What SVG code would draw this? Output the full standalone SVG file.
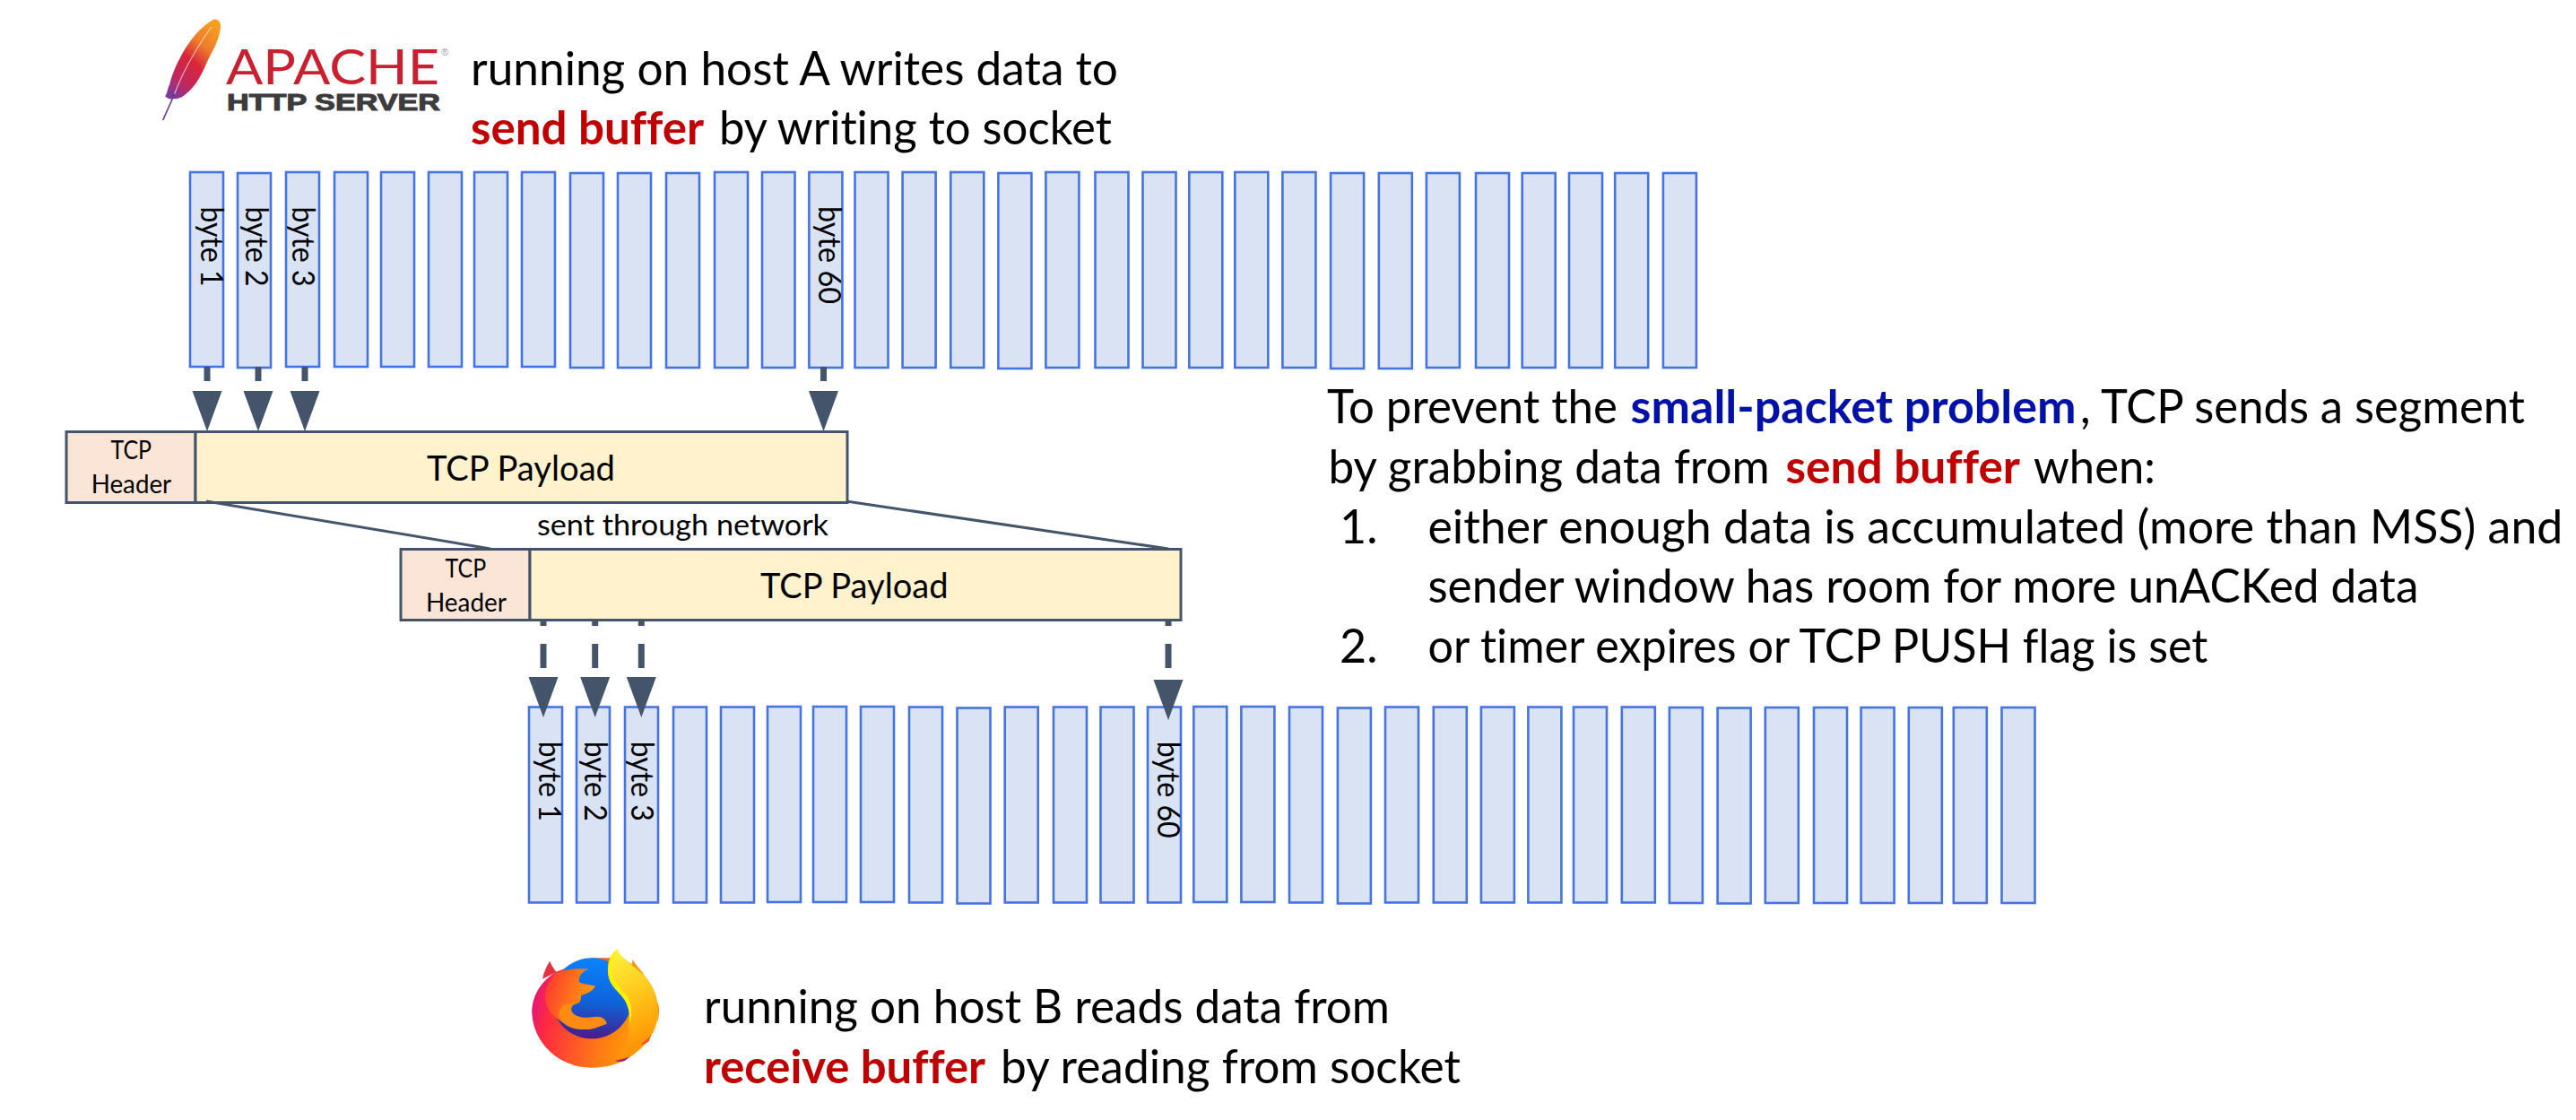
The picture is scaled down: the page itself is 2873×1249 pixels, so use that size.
<svg xmlns="http://www.w3.org/2000/svg" width="2873" height="1249" viewBox="0 0 2873 1249">
<style>
text{font-family:Lato,"Liberation Sans",sans-serif;fill:#000;font-variant-ligatures:none}
.m{font-size:52px}
.b{font-size:52px;font-weight:700}
.red{fill:#c00000}
.blue{fill:#0011a8}
.pl{font-size:38px}
.hd{font-size:28px}
.net{font-size:33px}
.by{font-size:35px}
.bar{fill:#dae3f3;stroke:#4574e2;stroke-width:2.6}
.h{fill:#fbe5d6;stroke:#44546a;stroke-width:3}
.p{fill:#fff2cc;stroke:#44546a;stroke-width:3}
.c{fill:none;stroke:#44546a;stroke-width:7}
.t{stroke-dasharray:16 40}
.d{stroke-dasharray:27 20;stroke-dashoffset:21}
.s{fill:none;stroke:#44546a;stroke-width:3}
</style>
<defs>
<marker id="ah" markerUnits="userSpaceOnUse" markerWidth="34" markerHeight="46" refX="17" refY="0" orient="auto-start-reverse" viewBox="0 0 34 46" overflow="visible"><path d="M0.5 0H33.5L17 45Z" fill="#44546a" transform="rotate(-90 17 0)"/></marker>
<linearGradient id="fe" x1="0.8" y1="0" x2="0.2" y2="1"><stop offset="0" stop-color="#f6a020"/><stop offset="0.3" stop-color="#ee7a2a"/><stop offset="0.52" stop-color="#d9263a"/><stop offset="0.8" stop-color="#be2760"/><stop offset="1" stop-color="#7d3a9e"/></linearGradient>
<linearGradient id="ffBody" x1="0" y1="0.4" x2="1" y2="0.6"><stop offset="0" stop-color="#e6147a"/><stop offset="0.15" stop-color="#ff2b3f"/><stop offset="0.6" stop-color="#ff7a14"/><stop offset="1" stop-color="#ffb000"/></linearGradient>
<linearGradient id="ffGlobe" x1="0.6" y1="0" x2="0.5" y2="1"><stop offset="0" stop-color="#0a84ff"/><stop offset="0.55" stop-color="#0f62d8"/><stop offset="1" stop-color="#4a1a88"/></linearGradient>
<linearGradient id="ffHead" x1="0" y1="0.3" x2="1" y2="0.6"><stop offset="0" stop-color="#ff3b30"/><stop offset="0.6" stop-color="#ff8a10"/><stop offset="1" stop-color="#ffa800"/></linearGradient>
<linearGradient id="ffTail" x1="0.3" y1="0" x2="0.5" y2="1"><stop offset="0" stop-color="#fff23a"/><stop offset="0.45" stop-color="#ffc51a"/><stop offset="1" stop-color="#ff8a00"/></linearGradient>
</defs>

<g id="apache-logo">
<path d="M205 35C220 33 230 45 228 62C224 100 205 135 192 158C180 180 172 205 160 225C150 245 130 272 105 290C95 297 80 302 70 300C60 305 50 298 42 292C50 285 50 265 58 252C62 232 75 195 92 165C112 125 155 60 205 35Z" fill="url(#fe)" transform="translate(170 10) scale(.3333)"/>
<path d="M198 60C160 110 100 210 74 285" fill="none" stroke="#fff" stroke-width="3" opacity=".8" transform="translate(170 10) scale(.3333)"/>
<path d="M74 285L35 372" fill="none" stroke="#6b3a8e" stroke-width="5" transform="translate(170 10) scale(.3333)"/>
<text x="252" y="93.5" font-size="54" textLength="238" lengthAdjust="spacingAndGlyphs" style="font-family:'Lato';font-weight:400;fill:#c8202f">APACHE</text>
<text x="492" y="62" font-size="11" style="font-family:'Liberation Sans';fill:#999">®</text>
<text x="253" y="123" font-size="25" textLength="238" lengthAdjust="spacingAndGlyphs" style="font-family:'Liberation Sans';font-weight:700;fill:#3c3b3d;stroke:#3c3b3d;stroke-width:1">HTTP SERVER</text>
</g>
<g id="apache-caption">
<text class="m" x="525" y="95" textLength="722" lengthAdjust="spacingAndGlyphs">running on host A writes data to</text>
<text class="b red" x="525" y="161" textLength="260" lengthAdjust="spacingAndGlyphs">send buffer</text>
<text class="m" x="802" y="161" textLength="438" lengthAdjust="spacingAndGlyphs">by writing to socket</text>
</g>

<g id="send-buffer">
<g id="s1"><rect class="bar" x="212" y="192" width="37" height="217"/><text class="by" transform="translate(223.5 230.5) rotate(90)" textLength="89" lengthAdjust="spacingAndGlyphs">byte 1</text></g>
<g id="s2"><rect class="bar" x="265" y="193" width="37" height="217"/><text class="by" transform="translate(273.5 230.5) rotate(90)" textLength="89" lengthAdjust="spacingAndGlyphs">byte 2</text></g>
<g id="s3"><rect class="bar" x="319" y="192" width="37" height="217"/><text class="by" transform="translate(326 230.5) rotate(90)" textLength="89" lengthAdjust="spacingAndGlyphs">byte 3</text></g>
<g id="s4"><rect class="bar" x="373" y="192" width="37" height="217"/></g>
<g id="s5"><rect class="bar" x="425" y="192" width="37" height="217"/></g>
<g id="s6"><rect class="bar" x="478" y="192" width="37" height="217"/></g>
<g id="s7"><rect class="bar" x="529" y="192" width="37" height="217"/></g>
<g id="s8"><rect class="bar" x="582" y="192" width="37" height="217"/></g>
<g id="s9"><rect class="bar" x="636" y="193" width="37" height="217"/></g>
<g id="s10"><rect class="bar" x="689" y="193" width="37" height="217"/></g>
<g id="s11"><rect class="bar" x="743" y="193" width="37" height="217"/></g>
<g id="s12"><rect class="bar" x="797" y="192" width="37" height="218"/></g>
<g id="s13"><rect class="bar" x="850" y="192" width="36.5" height="218"/></g>
<g id="s14"><rect class="bar" x="902.4" y="192" width="37" height="218"/><text class="by" transform="translate(913 230) rotate(90)" textLength="109" lengthAdjust="spacingAndGlyphs">byte 60</text></g>
<g id="s15"><rect class="bar" x="953.5" y="192" width="37" height="218"/></g>
<g id="s16"><rect class="bar" x="1006.6" y="192" width="37" height="218"/></g>
<g id="s17"><rect class="bar" x="1060.3" y="192" width="37" height="218"/></g>
<g id="s18"><rect class="bar" x="1113.4" y="193" width="37" height="218"/></g>
<g id="s19"><rect class="bar" x="1166.4" y="192" width="37" height="218"/></g>
<g id="s20"><rect class="bar" x="1221.5" y="192" width="37" height="218"/></g>
<g id="s21"><rect class="bar" x="1274.5" y="192" width="37" height="218"/></g>
<g id="s22"><rect class="bar" x="1326.3" y="192" width="37" height="218"/></g>
<g id="s23"><rect class="bar" x="1377.3" y="192" width="37" height="218"/></g>
<g id="s24"><rect class="bar" x="1430.4" y="192" width="37" height="218"/></g>
<g id="s25"><rect class="bar" x="1484.1" y="193" width="37" height="218"/></g>
<g id="s26"><rect class="bar" x="1537.8" y="193" width="37" height="218"/></g>
<g id="s27"><rect class="bar" x="1590.9" y="193" width="37" height="217"/></g>
<g id="s28"><rect class="bar" x="1646" y="193" width="37" height="217"/></g>
<g id="s29"><rect class="bar" x="1697.7" y="193" width="37" height="217"/></g>
<g id="s30"><rect class="bar" x="1750" y="193" width="37" height="217"/></g>
<g id="s31"><rect class="bar" x="1801.2" y="193" width="37" height="217"/></g>
<g id="s32"><rect class="bar" x="1854.9" y="193" width="37" height="217"/></g>
</g>

<g id="segment-a">
<rect class="h" x="74" y="481.5" width="144" height="79"/>
<rect class="p" x="218" y="481.5" width="727" height="79"/>
<text class="hd" x="123.5" y="512" textLength="45.5" lengthAdjust="spacingAndGlyphs">TCP</text>
<text class="hd" x="101.7" y="550" textLength="89.5" lengthAdjust="spacingAndGlyphs">Header</text>
<text class="pl" x="476" y="536" textLength="210" lengthAdjust="spacingAndGlyphs">TCP Payload</text>
</g>
<g id="network-label"><text class="net" x="599" y="597" textLength="325" lengthAdjust="spacingAndGlyphs">sent through network</text></g>
<g id="segment-b">
<rect class="h" x="447" y="612.5" width="144" height="79"/>
<rect class="p" x="591" y="612.5" width="726" height="79"/>
<text class="hd" x="496.6" y="644" textLength="45.5" lengthAdjust="spacingAndGlyphs">TCP</text>
<text class="hd" x="475" y="682" textLength="90" lengthAdjust="spacingAndGlyphs">Header</text>
<text class="pl" x="848" y="667" textLength="209.5" lengthAdjust="spacingAndGlyphs">TCP Payload</text>
</g>

<g id="receive-buffer">
<g id="r1"><rect class="bar" x="590" y="788.5" width="37" height="218"/><text class="by" transform="translate(600.7 826.7) rotate(90)" textLength="89" lengthAdjust="spacingAndGlyphs">byte 1</text></g>
<g id="r2"><rect class="bar" x="643" y="788.5" width="37" height="218"/><text class="by" transform="translate(651.7 826.7) rotate(90)" textLength="89" lengthAdjust="spacingAndGlyphs">byte 2</text></g>
<g id="r3"><rect class="bar" x="697" y="788.5" width="37" height="218"/><text class="by" transform="translate(704 826.7) rotate(90)" textLength="89" lengthAdjust="spacingAndGlyphs">byte 3</text></g>
<g id="r4"><rect class="bar" x="751" y="788.5" width="37" height="218"/></g>
<g id="r5"><rect class="bar" x="804" y="788.5" width="37" height="218"/></g>
<g id="r6"><rect class="bar" x="856" y="788" width="37" height="218"/></g>
<g id="r7"><rect class="bar" x="907" y="788" width="37" height="218"/></g>
<g id="r8"><rect class="bar" x="960" y="788" width="37" height="218"/></g>
<g id="r9"><rect class="bar" x="1014" y="788.5" width="37" height="218"/></g>
<g id="r10"><rect class="bar" x="1067.5" y="789.5" width="37" height="218"/></g>
<g id="r11"><rect class="bar" x="1120.7" y="788.5" width="37" height="218"/></g>
<g id="r12"><rect class="bar" x="1175" y="788.5" width="37" height="218"/></g>
<g id="r13"><rect class="bar" x="1227.5" y="788.5" width="37" height="218"/></g>
<g id="r14"><rect class="bar" x="1280" y="788.5" width="37" height="218"/><text class="by" transform="translate(1291 826.7) rotate(90)" textLength="108" lengthAdjust="spacingAndGlyphs">byte 60</text></g>
<g id="r15"><rect class="bar" x="1331.3" y="788" width="37" height="218"/></g>
<g id="r16"><rect class="bar" x="1384.4" y="788" width="37" height="218"/></g>
<g id="r17"><rect class="bar" x="1438" y="788.5" width="37" height="218"/></g>
<g id="r18"><rect class="bar" x="1491.9" y="789.5" width="37" height="218"/></g>
<g id="r19"><rect class="bar" x="1545" y="788.5" width="37" height="218"/></g>
<g id="r20"><rect class="bar" x="1598.8" y="788.5" width="37" height="218"/></g>
<g id="r21"><rect class="bar" x="1651.9" y="788.5" width="37" height="218"/></g>
<g id="r22"><rect class="bar" x="1704.4" y="788.5" width="37" height="218"/></g>
<g id="r23"><rect class="bar" x="1755" y="788.5" width="37" height="218"/></g>
<g id="r24"><rect class="bar" x="1808.8" y="788.5" width="37" height="218"/></g>
<g id="r25"><rect class="bar" x="1861.9" y="789" width="37" height="218"/></g>
<g id="r26"><rect class="bar" x="1915.6" y="789.5" width="37" height="218"/></g>
<g id="r27"><rect class="bar" x="1968.8" y="789" width="37" height="218"/></g>
<g id="r28"><rect class="bar" x="2023" y="789" width="37" height="218"/></g>
<g id="r29"><rect class="bar" x="2075.6" y="789" width="37" height="218"/></g>
<g id="r30"><rect class="bar" x="2128.8" y="789" width="37" height="218"/></g>
<g id="r31"><rect class="bar" x="2178.8" y="789" width="37" height="218"/></g>
<g id="r32"><rect class="bar" x="2232.5" y="789" width="37" height="218"/></g>
</g>

<g id="connectors">
<line class="c t" x1="231" y1="409" x2="231" y2="436" marker-end="url(#ah)"/>
<line class="c t" x1="288" y1="409" x2="288" y2="436" marker-end="url(#ah)"/>
<line class="c t" x1="340" y1="409" x2="340" y2="436" marker-end="url(#ah)"/>
<line class="c t" x1="918.5" y1="409" x2="918.5" y2="436" marker-end="url(#ah)"/>
<line class="s" x1="230" y1="559" x2="547" y2="612"/>
<line class="s" x1="944" y1="559" x2="1303" y2="612"/>
<line class="c d" x1="606" y1="692" x2="606" y2="755" marker-end="url(#ah)"/>
<line class="c d" x1="663.7" y1="692" x2="663.7" y2="755" marker-end="url(#ah)"/>
<line class="c d" x1="715.3" y1="692" x2="715.3" y2="755" marker-end="url(#ah)"/>
<line class="c d" x1="1303" y1="692" x2="1303" y2="758" marker-end="url(#ah)"/>
</g>

<g id="rule-text">
<text class="m" x="1480" y="472" textLength="324" lengthAdjust="spacingAndGlyphs">To prevent the</text>
<text class="b blue" x="1818.6" y="472" textLength="497" lengthAdjust="spacingAndGlyphs">small-packet problem</text>
<text class="m" x="2320" y="472" textLength="496" lengthAdjust="spacingAndGlyphs">, TCP sends a segment</text>
<text class="m" x="1481.6" y="539" textLength="492" lengthAdjust="spacingAndGlyphs">by grabbing data from</text>
<text class="b red" x="1991.5" y="539" textLength="261.5" lengthAdjust="spacingAndGlyphs">send buffer</text>
<text class="m" x="2268" y="539" textLength="136" lengthAdjust="spacingAndGlyphs">when:</text>
<text class="m" x="1494" y="606">1.</text>
<text class="m" x="1592.4" y="606" textLength="1266" lengthAdjust="spacingAndGlyphs">either enough data is accumulated (more than MSS) and</text>
<text class="m" x="1592.4" y="672" textLength="1105" lengthAdjust="spacingAndGlyphs">sender window has room for more unACKed data</text>
<text class="m" x="1494" y="739">2.</text>
<text class="m" x="1592.4" y="739" textLength="870" lengthAdjust="spacingAndGlyphs">or timer expires or TCP PUSH flag is set</text>
</g>

<g id="firefox-logo" transform="translate(560 1030) scale(.3333)">
<path d="M135 185C140 160 150 140 160 125C165 140 172 150 182 162Z" fill="#e8313f"/>
<path d="M437 120C445 135 460 150 475 170L430 160Z" fill="#ff9a00"/>
<path d="M518 262C528 275 527 300 520 330Z" fill="#ff8a10"/>
<path d="M180 162C125 195 98 250 100 300C105 400 190 482 300 482C350 482 395 470 430 445C490 405 525 350 522 285C520 220 480 160 400 115L300 115Z" fill="url(#ffBody)"/>
<circle cx="300" cy="250" r="135" fill="url(#ffGlobe)"/>
<path d="M180 165C210 152 255 148 290 152C265 160 255 178 258 196C272 203 295 205 312 208C305 226 282 236 265 240C263 255 262 265 250 268C232 272 226 285 235 297C250 316 285 318 310 312C330 308 345 318 350 335C330 340 318 350 290 353C250 358 210 345 165 300C140 270 130 220 180 165Z" fill="url(#ffHead)"/>
<path d="M190 305C190 270 215 265 240 268C225 285 232 300 245 308C270 320 300 312 320 312C340 314 348 325 350 335C330 340 318 350 290 353C245 358 200 345 190 305Z" fill="#ff8a14"/>
<path d="M385 85C395 112 425 130 460 160C495 190 518 235 518 275C522 345 490 400 432 440C410 452 390 460 375 458C430 425 420 380 425 340C435 320 425 280 410 255C390 225 360 210 355 165C353 130 365 105 385 85Z" fill="url(#ffTail)"/>
<path d="M385 85C360 105 350 135 355 170C360 210 390 225 410 255C425 280 432 320 420 350C440 310 435 270 420 245C395 210 370 195 367 155C365 130 372 105 385 85Z" fill="#fff000"/>
<path d="M378 458C395 455 415 450 428 445L410 460C398 463 385 463 378 458Z" fill="#a8287a"/>
<path d="M470 398C485 388 495 378 500 368L492 392C485 400 475 404 465 405Z" fill="#f0551f"/>
</g>
<g id="firefox-caption">
<text class="m" x="785" y="1141" textLength="765" lengthAdjust="spacingAndGlyphs">running on host B reads data from</text>
<text class="b red" x="785" y="1207.5" textLength="314" lengthAdjust="spacingAndGlyphs">receive buffer</text>
<text class="m" x="1116" y="1207.5" textLength="513" lengthAdjust="spacingAndGlyphs">by reading from socket</text>
</g>
</svg>
